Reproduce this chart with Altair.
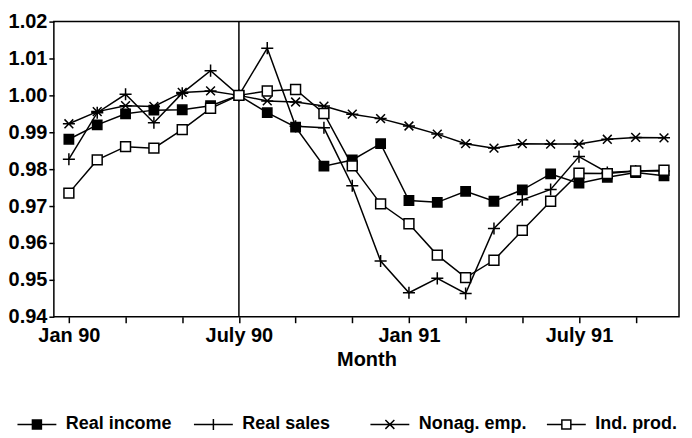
import altair as alt
import pandas as pd

# ---- data ----
months = list(range(22))  # Jan 90 .. Oct 91
tick_pos = [0, 6, 12, 18]
tick_text = ["Jan 90", "July 90", "Jan 91", "July 91"]
y_ticks = [0.94, 0.95, 0.96, 0.97, 0.98, 0.99, 1.00, 1.01, 1.02]
vline_month = [6]

series_names = ["Real income", "Real sales", "Nonag. emp.", "Ind. prod."]

real_income = [0.9881, 0.9920, 0.9950, 0.9960, 0.9961, 0.9972, 1.0000, 0.9953, 0.9914, 0.9808, 0.9825,
               0.9869, 0.9715, 0.9710, 0.9740, 0.9713, 0.9744, 0.9787, 0.9762, 0.9778, 0.9791, 0.9782]
real_sales = [0.9827, 0.9953, 1.0003, 0.9926, 1.0006, 1.0067, 1.0000, 1.0128, 0.9916, 0.9912, 0.9755,
              0.9551, 0.9465, 0.9504, 0.9463, 0.9639, 0.9717, 0.9745, 0.9834, 0.9791, 0.9795, 0.9795]
nonag_emp = [0.9923, 0.9956, 0.9972, 0.9970, 1.0008, 1.0012, 1.0000, 0.9985, 0.9982, 0.9971, 0.9949,
             0.9937, 0.9917, 0.9895, 0.9869, 0.9857, 0.9869, 0.9868, 0.9868, 0.9881, 0.9886, 0.9885]
ind_prod = [0.9735, 0.9825, 0.9861, 0.9857, 0.9907, 0.9965, 1.0000, 1.0012, 1.0016, 0.9951, 0.9809,
            0.9706, 0.9652, 0.9567, 0.9506, 0.9553, 0.9634, 0.9713, 0.9789, 0.9788, 0.9795, 0.9797]

rows = []
for name, vals in zip(series_names, [real_income, real_sales, nonag_emp, ind_prod]):
    for m, v in zip(months, vals):
        rows.append({"month": m, "value": v, "series": name})
df = pd.DataFrame(rows)

marker_paths = [
    "M-0.85,-0.85H0.85V0.85H-0.85Z",
    "M-1.1,0H1.1M0,-1.1V1.1",
    "M-1.1,0H1.1M-0.8,-0.8L0.8,0.8M-0.8,0.8L0.8,-0.8",
    "M-0.9,-0.9H0.9V0.9H-0.9Z",
]
legend_paths = [
    "M-3.9,0H3.9M-0.9,-0.9H0.9V0.9H-0.9ZM-0.9,-0.6H0.9M-0.9,-0.3H0.9M-0.9,0.3H0.9M-0.9,0.6H0.9",
    "M-3.9,0H3.9M0,-1.1V1.1",
    "M-3.9,0H3.9M-0.9,-0.9L0.9,0.9M-0.9,0.9L0.9,-0.9",
    "M-3.9,0H-0.9M0.9,0H3.9M-0.9,-0.9H0.9V0.9H-0.9Z",
]
fills = ["black", "white", "white", "white"]

FONT = "Liberation Sans"

label_expr = " : ".join(
    f"datum.value == {p} ? '{t}'" for p, t in zip(tick_pos, tick_text)
) + " : ''"

x_enc = alt.X(
    "month:Q",
    scale=alt.Scale(domain=[-0.53, 21.53], nice=False, zero=False),
    axis=alt.Axis(values=months, labelExpr=label_expr, labelOverlap=False, grid=False,
                  tickSize=6, labelPadding=3, title="Month", titlePadding=4),
)
y_enc = alt.Y(
    "value:Q",
    scale=alt.Scale(domain=[0.94, 1.02], nice=False, zero=False),
    axis=alt.Axis(values=y_ticks, format=".2f", grid=False, tickSize=5, labelPadding=2, title=None),
)

base = alt.Chart(df)

lines = base.mark_line(color="black", strokeWidth=1.5).encode(
    x=x_enc, y=y_enc, detail="series:N"
)

points = base.mark_point(size=121, stroke="black", strokeWidth=1.5, opacity=1, filled=False).encode(
    x=x_enc, y=y_enc,
    shape=alt.Shape("series:N", scale=alt.Scale(domain=series_names, range=marker_paths), legend=None),
    fill=alt.Fill("series:N", scale=alt.Scale(domain=series_names, range=fills), legend=None),
)

legend = alt.Legend(
    orient="none", legendX=-36, legendY=395, direction="horizontal", columns=4,
    gridAlign="all", columnPadding=16, title=None,
    labelFont=FONT, labelFontSize=18, labelFontWeight="bold", labelColor="black",
    symbolOffset=10, labelOffset=20, symbolOpacity=1, symbolStrokeWidth=1.5,
    symbolStrokeColor="black", padding=0,
)

legend_layer = base.mark_point(size=100, stroke="black", strokeWidth=1.5, opacity=0, filled=False).encode(
    x=x_enc, y=y_enc,
    shape=alt.Shape("series:N", scale=alt.Scale(domain=series_names, range=legend_paths), legend=legend),
)

vline = alt.Chart(pd.DataFrame({"month": vline_month})).mark_rule(color="black", strokeWidth=1.5).encode(
    x=alt.X("month:Q")
)

chart = (
    alt.layer(vline, lines, points, legend_layer)
    .resolve_scale(shape="independent", fill="independent")
    .properties(width=627, height=296, padding={"left": 0, "top": 3, "right": 0, "bottom": 0},
                background="white")
    .configure_view(stroke="black", strokeWidth=1.5)
    .configure_axis(
        labelFont=FONT, labelFontSize=20, labelFontWeight="bold", labelColor="black",
        titleFont=FONT, titleFontSize=20, titleFontWeight="bold", titleColor="black",
        domain=False, tickColor="black", tickWidth=1.5,
    )
)

chart.save("out.html", embed_options={"renderer": "svg", "actions": False})
